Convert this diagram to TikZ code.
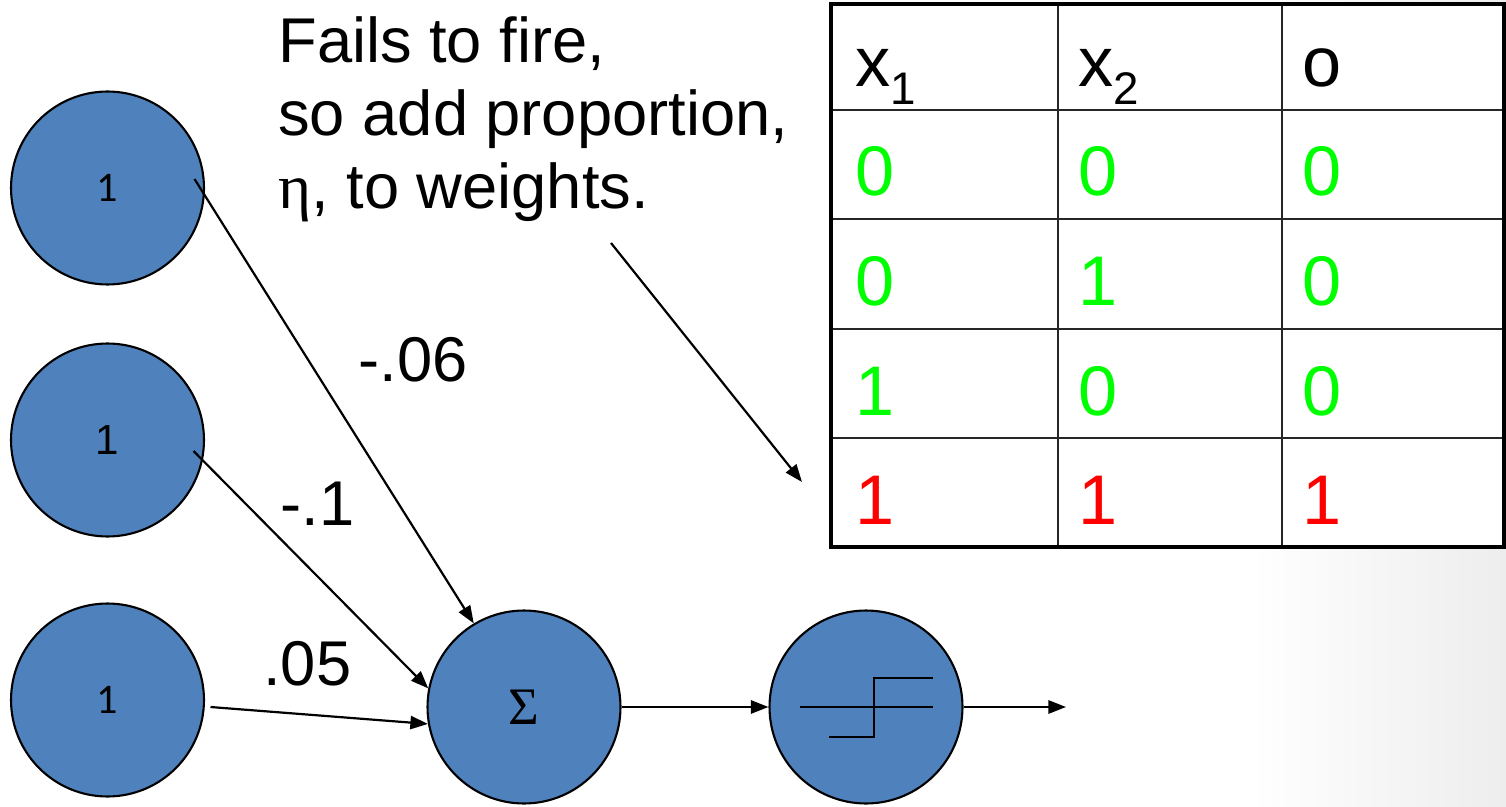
\documentclass[tikz,border=0pt]{standalone}
\usepackage{fontspec}
\setmainfont{Liberation Sans}
\newfontfamily\calfont{Carlito}
\newfontfamily\serfont{Liberation Serif}
\usetikzlibrary{arrows.meta,calc}
\definecolor{unitblue}{HTML}{4F81BD}
\definecolor{okgreen}{HTML}{00FF00}
\definecolor{badred}{HTML}{FF0000}
\tikzset{unit/.style={circle,draw=black,fill=unitblue,line width=1.2pt,minimum size=3.86cm,inner sep=0pt,font=\fontsize{24}{26}\selectfont},
wire/.style={line width=1.25pt,-{Triangle[length=10pt,width=7.5pt]}},
weight/.style={anchor=base west,inner sep=0pt,font=\fontsize{36}{41}\selectfont},
cell/.style={anchor=base west,inner sep=0pt,font=\fontsize{40}{44}\selectfont},
gridline/.style={line width=1.6pt,black!85},
memo/.style={anchor=north west,inner sep=0pt,align=left,font=\fontsize{36}{41.5}\selectfont}}
\begin{document}
\begin{tikzpicture}[x=0.02cm,y=-0.02cm]
\useasboundingbox (0,0) rectangle (1506,807);
\fill[left color=white,right color=black!7] (1250,0) rectangle (1506,807);
% input units, sum and threshold
\node[unit] (in1) at (107.5,188) {\calfont 1};
\node[unit] (in2) at (107.5,440) {1};
\node[unit] (in3) at (107.5,700) {\calfont 1};
\node[unit] (sum) at (524,707) {\fontsize{30}{32}\selectfont\serfont Σ};
\node[unit] (act) at (866,707) {};
\draw[line width=1.25pt] ($(act)+(-66,0)$) -- ($(act)+(67,0)$);
\draw[line width=1.25pt] ($(act)+(-37,30)$) -- ($(act)+(8,30)$) -- ($(act)+(8,-29)$) -- ($(act)+(67,-29)$);
% weighted connections
\coordinate (s1) at ($(in1)+(87,-9)$);
\coordinate (s2) at ($(in2)+(86,11)$);
\coordinate (s3) at ($(in3)+(103,7)$);
\coordinate (out) at (1066,707);
\draw[wire] (s1) -- (sum.121);
\draw[wire] (s2) -- (sum.169);
\draw[wire] (s3) -- (sum.190);
\draw[wire] (sum.east) -- (act.west);
\draw[wire] (act.east) -- (out);
\node[weight] (w1) at (358,381) {-.06};
\node[weight] (w2) at (280,525) {-.1};
\node[weight] (w3) at (263,685) {.05};
% note
\node[memo] (memo) at (278,16) {Fails to fire,\\so add proportion,\\{\serfont η}, to weights.};
\coordinate (memoend) at (611,243);
\coordinate (rowhit) at (802,482);
\draw[wire] (memoend) -- (rowhit);
% truth table
\fill[white] (831,4) rectangle (1504,547);
\foreach \y in {110,219,329,438} \draw[gridline] (831,\y) -- (1504,\y);
\foreach \x in {1058,1282} \draw[gridline] (\x,4) -- (\x,547);
\draw[line width=2.8pt] (831,4) rectangle (1504,547);
\node[cell] (hx1) at (855,87) {x\raisebox{-10pt}{\fontsize{26}{26}\selectfont 1}};
\node[cell] (hx2) at (1078,87) {x\raisebox{-10pt}{\fontsize{26}{26}\selectfont 2}};
\node[cell] (ho) at (1302,87) {o};
\foreach \r/\top/\a/\b/\c/\col in {1/110/0/0/0/okgreen,2/219/0/1/0/okgreen,3/329/1/0/0/okgreen,4/438/1/1/1/badred}{
  \node[cell,text=\col] (c\r a) at (855,\top+86) {\a};
  \node[cell,text=\col] (c\r b) at (1078,\top+86) {\b};
  \node[cell,text=\col] (c\r c) at (1302,\top+86) {\c};
}
\end{tikzpicture}
\end{document}
